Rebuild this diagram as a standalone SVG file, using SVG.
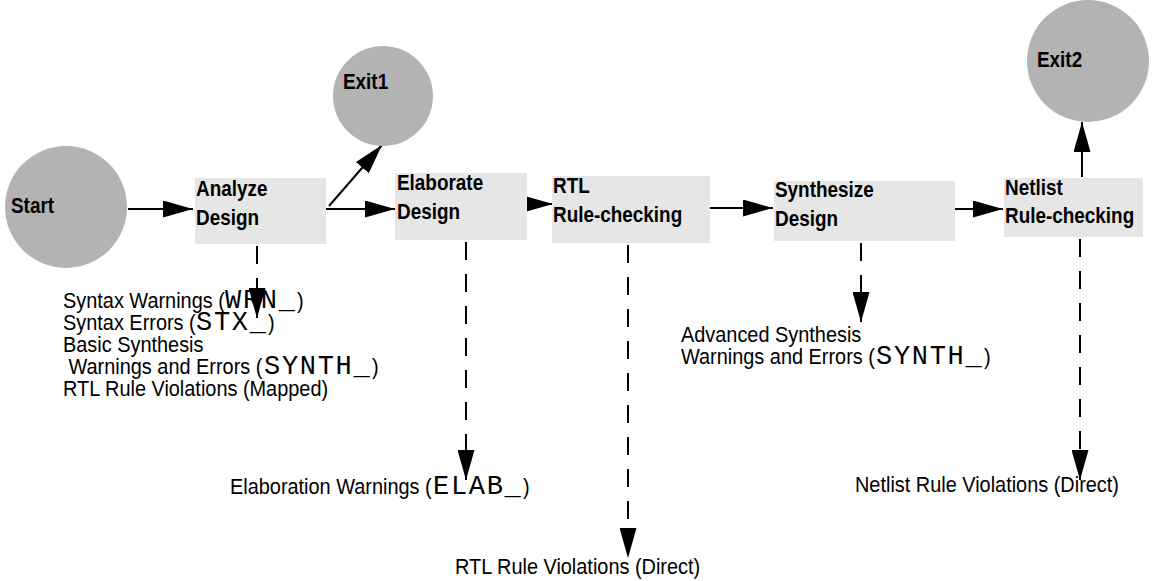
<svg xmlns="http://www.w3.org/2000/svg" width="1161" height="581" viewBox="0 0 1161 581">
  <style>
    .term { fill: #b3b3b3; }
    .step { fill: #e6e6e6; }
    .lbl { font-family: "Liberation Sans", Arial, sans-serif; font-size: 22px; font-weight: bold; fill: #000; }
    .note { font-family: "Liberation Sans", Arial, sans-serif; font-size: 22px; fill: #000; }
    .code { font-family: "Liberation Mono", "Courier New", monospace; font-size: 27px; letter-spacing: 1.7px; fill: #000; }
    .flow { stroke: #000; stroke-width: 2; fill: none; }
    .msg { stroke: #000; stroke-width: 2; fill: none; stroke-dasharray: 18 14; }
  </style>
  <defs>
    <marker id="head" markerUnits="userSpaceOnUse" markerWidth="30" markerHeight="17" refX="30" refY="8.5" orient="auto">
      <path d="M0,0 L30,8.5 L0,17 Z" fill="#000"/>
    </marker>
  </defs>

  <rect width="1161" height="581" fill="#fff"/>

  <!-- flow connectors -->
  <g id="connectors">
    <line class="flow" x1="128" y1="209" x2="193" y2="209" marker-end="url(#head)"/>
    <line class="flow" x1="326" y1="209" x2="395" y2="209" marker-end="url(#head)"/>
    <line class="flow" x1="329" y1="206" x2="382" y2="145" stroke-width="1.5" marker-end="url(#head)"/>
    <line class="flow" x1="525" y1="204" x2="553" y2="204" marker-end="url(#head)"/>
    <line class="flow" x1="710" y1="208" x2="773" y2="208" marker-end="url(#head)"/>
    <line class="flow" x1="955" y1="209" x2="1003" y2="209" marker-end="url(#head)"/>
    <line class="flow" x1="1082" y1="177" x2="1082" y2="122" marker-end="url(#head)"/>
    <!-- message outputs -->
    <line class="msg" x1="257" y1="246" x2="257" y2="318" marker-end="url(#head)"/>
    <line class="msg" x1="466" y1="242" x2="466" y2="480" marker-end="url(#head)"/>
    <line class="msg" x1="628" y1="245" x2="628" y2="558" marker-end="url(#head)"/>
    <line class="msg" x1="861" y1="243" x2="861" y2="322" marker-end="url(#head)"/>
    <line class="msg" x1="1080" y1="239" x2="1080" y2="480" marker-end="url(#head)"/>
  </g>

  <g id="start">
    <circle class="term" cx="66" cy="207" r="61"/>
    <text class="lbl" transform="translate(11,213) scale(0.86,1)">Start</text>
  </g>
  <g id="exit1">
    <circle class="term" cx="383" cy="96" r="50"/>
    <text class="lbl" transform="translate(343,89) scale(0.86,1)">Exit1</text>
  </g>
  <g id="exit2">
    <circle class="term" cx="1088" cy="61" r="61"/>
    <text class="lbl" transform="translate(1037,67) scale(0.86,1)">Exit2</text>
  </g>

  <g id="analyze">
    <rect class="step" x="195" y="178" width="131" height="66"/>
    <text class="lbl" transform="translate(196,196) scale(0.86,1)">Analyze</text>
    <text class="lbl" transform="translate(196,225) scale(0.86,1)">Design</text>
  </g>
  <g id="elaborate">
    <rect class="step" x="395" y="173" width="132" height="67"/>
    <text class="lbl" transform="translate(397,190) scale(0.86,1)">Elaborate</text>
    <text class="lbl" transform="translate(397,219) scale(0.86,1)">Design</text>
  </g>
  <g id="rtl-check">
    <rect class="step" x="552" y="176" width="158" height="67"/>
    <text class="lbl" transform="translate(553,193) scale(0.86,1)">RTL</text>
    <text class="lbl" transform="translate(553,222) scale(0.86,1)">Rule-checking</text>
  </g>
  <g id="synthesize">
    <rect class="step" x="774" y="181" width="181" height="60"/>
    <text class="lbl" transform="translate(775,197) scale(0.86,1)">Synthesize</text>
    <text class="lbl" transform="translate(775,226) scale(0.86,1)">Design</text>
  </g>
  <g id="netlist-check">
    <rect class="step" x="1004" y="178" width="139" height="59"/>
    <text class="lbl" transform="translate(1005,195) scale(0.86,1)">Netlist</text>
    <text class="lbl" transform="translate(1005,223) scale(0.86,1)">Rule-checking</text>
  </g>

  <!-- message lists: narrow sans text with monospaced prefixes -->
  <g id="analyze-msgs">
    <text class="note" transform="translate(63,308) scale(0.905,1)">Syntax Warnings (</text>
    <text class="code" x="225" y="308">WRN_</text>
    <text class="note" transform="translate(297,308) scale(0.905,1)">)</text>
    <text class="note" transform="translate(63,330) scale(0.905,1)">Syntax Errors (</text>
    <text class="code" x="196" y="330">STX_</text>
    <text class="note" transform="translate(268,330) scale(0.905,1)">)</text>
    <text class="note" transform="translate(63,352) scale(0.905,1)">Basic Synthesis</text>
    <text class="note" transform="translate(68.5,374) scale(0.905,1)">Warnings and Errors (</text>
    <text class="code" x="264" y="374">SYNTH_</text>
    <text class="note" transform="translate(372,374) scale(0.905,1)">)</text>
    <text class="note" transform="translate(63,396) scale(0.905,1)">RTL Rule Violations (Mapped)</text>
  </g>
  <g id="elaborate-msgs">
    <text class="note" transform="translate(230,494) scale(0.905,1)">Elaboration Warnings (</text>
    <text class="code" x="433" y="494">ELAB_</text>
    <text class="note" transform="translate(523,494) scale(0.905,1)">)</text>
  </g>
  <g id="rtl-msgs">
    <text class="note" transform="translate(455,574) scale(0.905,1)">RTL Rule Violations (Direct)</text>
  </g>
  <g id="synth-msgs">
    <text class="note" transform="translate(681,342) scale(0.905,1)">Advanced Synthesis</text>
    <text class="note" transform="translate(681,364) scale(0.905,1)">Warnings and Errors (</text>
    <text class="code" x="876" y="364">SYNTH_</text>
    <text class="note" transform="translate(984,364) scale(0.905,1)">)</text>
  </g>
  <g id="netlist-msgs">
    <text class="note" transform="translate(855,492) scale(0.905,1)">Netlist Rule Violations (Direct)</text>
  </g>
</svg>
